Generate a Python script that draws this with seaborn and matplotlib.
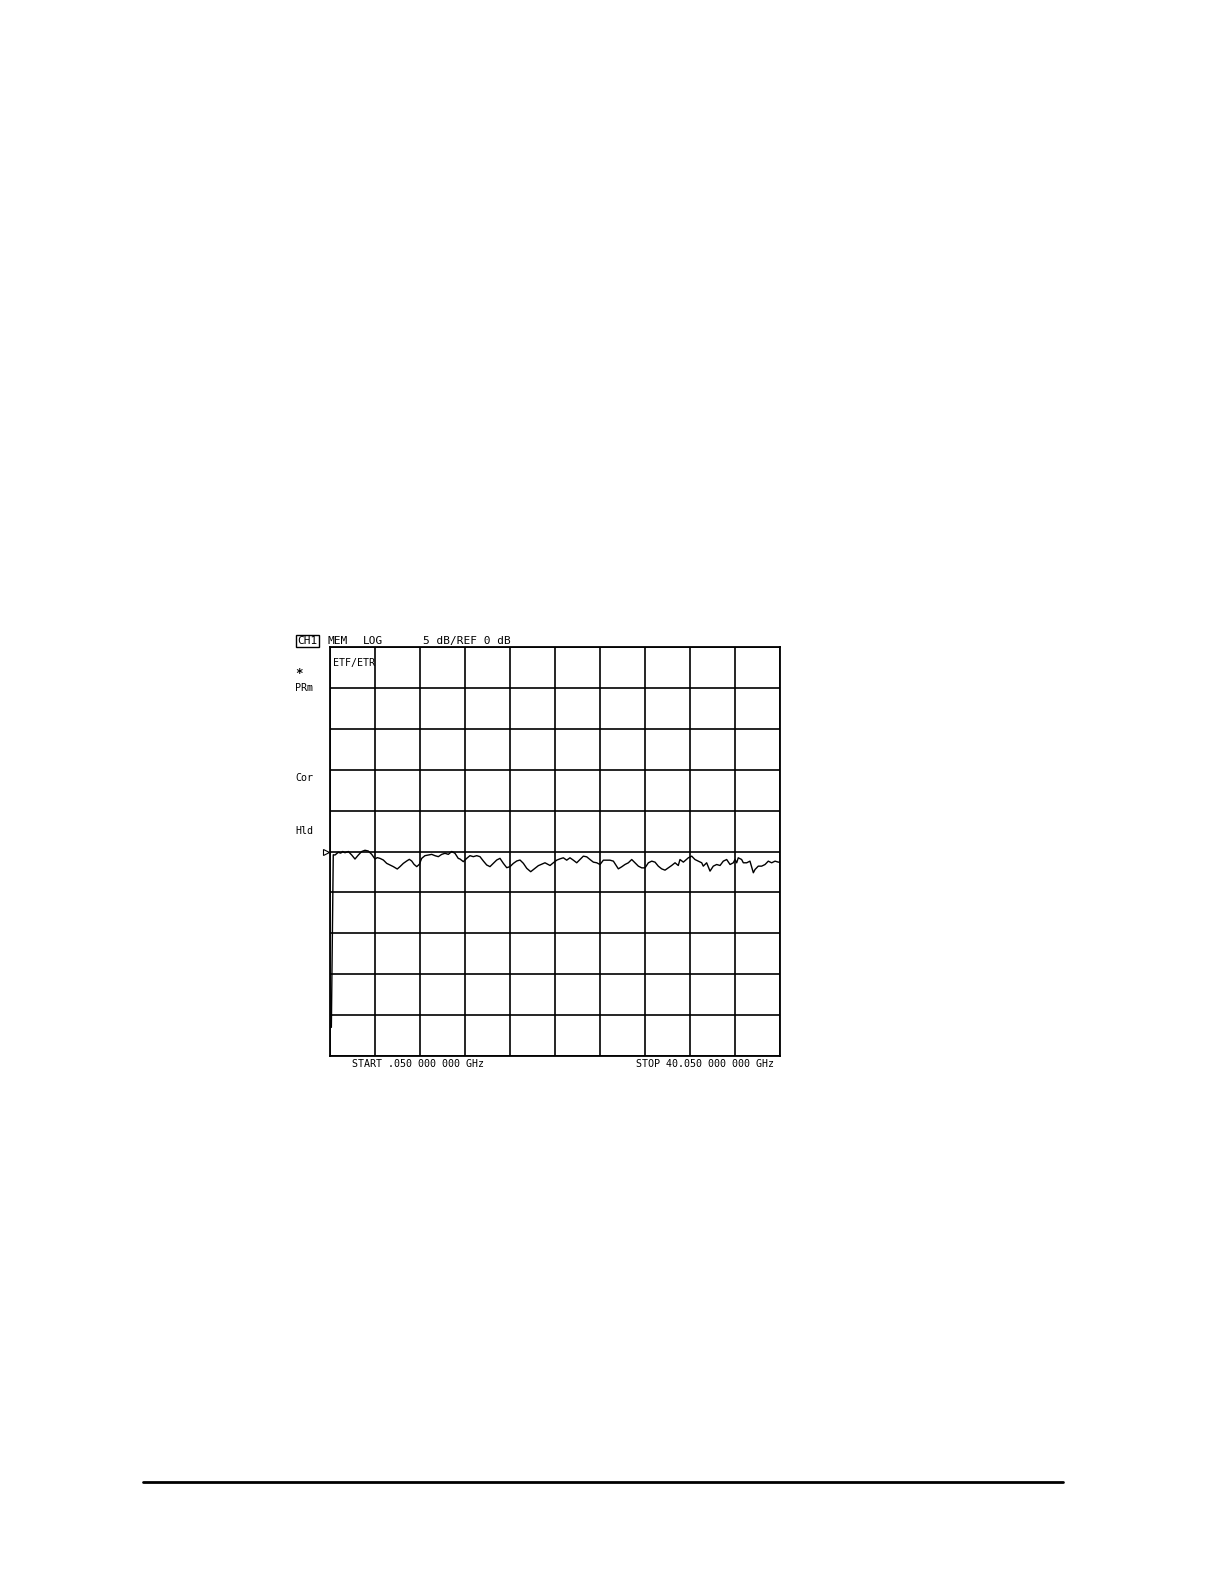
import numpy as np
import pandas as pd
import matplotlib
matplotlib.use("Agg")
import matplotlib.pyplot as plt
import matplotlib.transforms as mtransforms
import seaborn as sns

# ---- data ----
start_ghz = 0.05
stop_ghz = 40.05
db_per_div = 5
ref_db = 0

freq_ghz = [
    0.17, 0.34, 0.49, 0.79, 1.00, 1.18, 1.38, 1.68, 1.98, 2.27, 2.57, 2.87, 3.16, 3.45,
    3.76, 4.05, 4.25, 4.49, 4.79, 5.09, 5.38, 5.68, 6.03, 6.27, 6.57, 6.87, 7.10,
    7.31, 7.52, 7.76, 7.99, 8.20, 8.49, 8.79, 9.09, 9.38, 9.68, 9.98, 10.27, 10.57,
    10.87, 11.16, 11.45, 11.61, 11.90, 12.20, 12.49, 12.79, 13.09, 13.38, 13.68,
    13.98, 14.27, 14.57, 14.87, 15.16, 15.46, 15.76, 16.05, 16.35, 16.65, 16.94,
    17.24, 17.54, 17.89, 18.27, 18.57, 19.16, 19.61, 19.90, 20.20, 20.49, 20.79,
    21.09, 21.38, 21.68, 21.98, 22.27, 22.57, 22.87, 23.16, 23.46, 23.76, 24.05,
    24.35, 24.65, 24.94, 25.24, 25.68, 25.98, 26.27, 26.57, 26.87, 27.16, 27.46,
    27.76, 28.05, 28.35, 28.65, 28.94, 29.23, 29.53, 29.83, 30.12, 30.42, 30.72,
    31.01, 31.16, 31.46, 31.90, 32.20, 32.49, 32.79, 33.09, 33.23, 33.53, 33.83,
    34.12, 34.42, 34.72, 35.01, 35.31, 35.61, 35.90, 36.05, 36.20, 36.34, 36.64,
    36.79, 37.09, 37.38, 37.68, 37.83, 38.12, 38.42, 38.72, 39.01, 39.31, 39.61,
    39.90, 40.05,
]
trace_db = [
    -21.5, -0.40, -0.43, -0.10, -0.20, 0.00, -0.15, 0.00, -0.43, -0.92, -0.43, 0.00, 0.15, 0.06,
    -0.35, -0.92, -0.75, -0.84, -1.04, -1.45, -1.65, -1.85, -2.14, -1.85, -1.45, -1.16, -0.96,
    -1.16, -1.57, -1.85, -1.57, -0.84, -0.51, -0.43, -0.35, -0.51, -0.63, -0.35, -0.22, -0.35,
    0.00, -0.22, -0.84, -0.92, -1.24, -0.84, -0.51, -0.63, -0.51, -0.63, -1.16,
    -1.65, -1.85, -1.45, -1.04, -0.84, -1.45, -1.98, -1.85, -1.45, -1.16, -1.04,
    -1.45, -2.06, -2.47, -2.06, -1.73, -1.38, -1.71, -1.38, -1.06, -0.90, -0.77,
    -1.06, -0.77, -1.06, -1.38, -0.98, -0.57, -0.65, -0.98, -1.30, -1.38, -1.59,
    -1.06, -1.06, -1.06, -1.18, -2.12, -1.87, -1.59, -1.38, -0.98, -1.38, -1.79,
    -2.00, -2.00, -1.38, -1.18, -1.30, -1.79, -2.12, -2.28, -2.00, -1.71, -1.38,
    -1.71, -0.98, -1.30, -0.77, -0.57, -0.98, -1.18, -1.38, -1.79, -1.38, -2.40,
    -1.79, -1.59, -1.71, -1.18, -0.98, -1.59, -1.38, -0.98, -1.38, -0.77, -0.98,
    -1.38, -1.38, -1.18, -2.60, -2.20, -1.79, -1.79, -1.59, -1.18, -1.38, -1.18,
    -1.30, -1.30,
]

header_texts = ["MEM", "LOG", "5 dB/REF 0 dB"]
side_labels = ["*", "PRm", "Cor", "Hld"]
start_label = "START .050 000 000 GHz"
stop_label = "STOP 40.050 000 000 GHz"

# ---- figure ----
sns.set_theme(style="white")
plt.rcParams['font.family'] = ['DejaVu Sans Mono', 'DejaVu Sans']
plt.rcParams['text.color'] = 'black'

W, H = 1224, 1582
fig = plt.figure(figsize=(W / 100, H / 100), dpi=100)
fig.patch.set_facecolor("white")

def fx(px):
    return px / W

def fy(py):
    return 1 - py / H

ax_l, ax_r, ax_t, ax_b = 330, 780, 647, 1056
ax = fig.add_axes([fx(ax_l), fy(ax_b), (ax_r - ax_l) / W, (ax_b - ax_t) / H])
ax.set_facecolor("white")

df = pd.DataFrame({"freq": freq_ghz, "db": trace_db})
sns.lineplot(data=df, x="freq", y="db", ax=ax, color="black", linewidth=1.0,
             sort=False, estimator=None)

top = ref_db + 5 * db_per_div
bot = ref_db - 5 * db_per_div
ax.set_xlim(start_ghz, stop_ghz)
ax.set_ylim(bot, top)
ax.set_xticks(np.linspace(start_ghz, stop_ghz, 11))
ax.set_yticks(np.arange(bot, top + 0.1, db_per_div))
ax.grid(True, color="black", linewidth=1.2)
ax.tick_params(length=0, labelbottom=False, labelleft=False)
ax.set_xlabel("")
ax.set_ylabel("")
for s in ax.spines.values():
    s.set_visible(True)
    s.set_color("black")
    s.set_linewidth(1.3)

# reference position marker
trans = mtransforms.blended_transform_factory(ax.transAxes, ax.transData)
ax.plot([-0.009], [ref_db], marker=">", markersize=4.5, markerfacecolor="white",
        markeredgecolor="black", markeredgewidth=0.8, transform=trans, clip_on=False)

# ---- annotations ----
fs_top = 8.0
fs_bot = 7.2
tc = "black"
fig.text(fx(297), fy(641), "CH1", fontsize=fs_top, va="center", ha="left", color=tc,
         bbox=dict(boxstyle="square,pad=0.12", fc="white", ec="black", lw=1.0))
fig.text(fx(327), fy(641), header_texts[0], fontsize=fs_top, va="center", ha="left", color=tc)
fig.text(fx(363), fy(641), header_texts[1], fontsize=fs_top, va="center", ha="left", color=tc)
fig.text(fx(423), fy(641), header_texts[2], fontsize=fs_top, va="center", ha="left", color=tc)

fig.text(fx(333), fy(663), "ETF/ETR", fontsize=fs_bot, va="center", ha="left", color=tc)

fig.text(fx(295), fy(674), side_labels[0], fontsize=9, va="center", ha="left",
         fontweight="bold", color=tc)
fig.text(fx(295), fy(688), side_labels[1], fontsize=fs_bot, va="center", ha="left", color=tc)
fig.text(fx(295), fy(778), side_labels[2], fontsize=fs_bot, va="center", ha="left", color=tc)
fig.text(fx(295), fy(831), side_labels[3], fontsize=fs_bot, va="center", ha="left", color=tc)

fig.text(fx(352), fy(1064), start_label, fontsize=fs_bot, va="center", ha="left", color=tc)
fig.text(fx(774), fy(1064), stop_label, fontsize=fs_bot, va="center", ha="right", color=tc)

# page rule
fig.add_artist(plt.Line2D([fx(143), fx(1063)], [fy(1482), fy(1482)],
                          color="black", linewidth=2.0))

fig.savefig("out.png", dpi=100, facecolor="white")
